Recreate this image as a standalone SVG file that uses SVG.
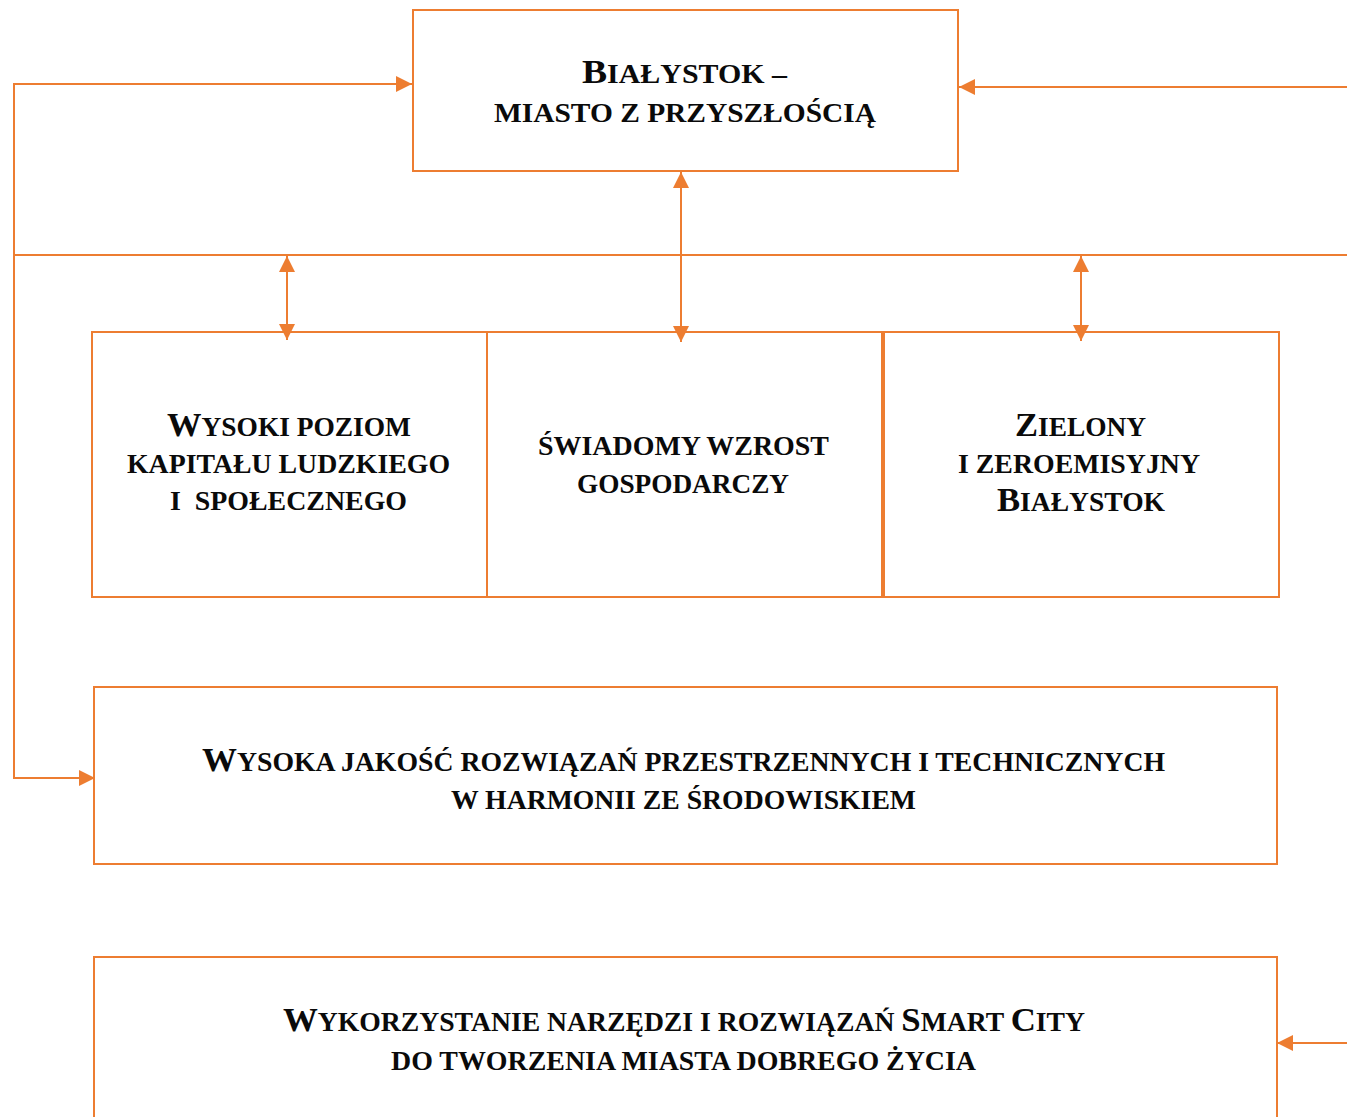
<svg xmlns="http://www.w3.org/2000/svg" width="1347" height="1117" viewBox="0 0 1347 1117">
<style>
  .box { fill: #ffffff; stroke: #ED7D31; stroke-width: 2; }
  .con { fill: none; stroke: #ED7D31; stroke-width: 2; }
  .t { font-family: "Liberation Serif", "Times New Roman", serif; font-weight: bold; font-size: 27px; fill: #0a0a0a; }
  .b { font-size: 34px; }
  .pre { white-space: pre; }
</style>
<defs>
  <marker id="arr" viewBox="0 0 16 16" refX="16" refY="8" markerWidth="16" markerHeight="16" markerUnits="userSpaceOnUse" orient="auto-start-reverse">
    <path d="M0,0 L16,8 L0,16 z" fill="#ED7D31"/>
  </marker>
</defs>
<rect width="1347" height="1117" fill="#ffffff"/>

<g id="node-bialystok">
  <rect class="box" x="413" y="10" width="545" height="161"/>
  <text class="t" x="582" y="83" textLength="205" lengthAdjust="spacingAndGlyphs"><tspan class="b">B</tspan>IAŁYSTOK –</text>
  <text class="t" x="494" y="122" textLength="382" lengthAdjust="spacingAndGlyphs">MIASTO Z PRZYSZŁOŚCIĄ</text>
</g>

<g id="node-kapital">
  <rect class="box" x="92" y="332" width="395" height="265"/>
  <text class="t" x="167" y="436" textLength="244" lengthAdjust="spacingAndGlyphs"><tspan class="b">W</tspan>YSOKI POZIOM</text>
  <text class="t" x="127" y="473" textLength="323" lengthAdjust="spacingAndGlyphs">KAPITAŁU LUDZKIEGO</text>
  <text class="t pre" x="170" y="510" textLength="237" lengthAdjust="spacingAndGlyphs">I  SPOŁECZNEGO</text>
</g>

<g id="node-wzrost">
  <rect class="box" x="487" y="332" width="395" height="265"/>
  <text class="t" x="538" y="455" textLength="291" lengthAdjust="spacingAndGlyphs">ŚWIADOMY WZROST</text>
  <text class="t" x="577" y="493" textLength="212" lengthAdjust="spacingAndGlyphs">GOSPODARCZY</text>
</g>

<g id="node-zielony">
  <rect class="box" x="884" y="332" width="395" height="265"/>
  <text class="t" x="1015" y="436" textLength="131" lengthAdjust="spacingAndGlyphs"><tspan class="b">Z</tspan>IELONY</text>
  <text class="t" x="958" y="473" textLength="242" lengthAdjust="spacingAndGlyphs">I ZEROEMISYJNY</text>
  <text class="t" x="997" y="511" textLength="168" lengthAdjust="spacingAndGlyphs"><tspan class="b">B</tspan>IAŁYSTOK</text>
</g>

<g id="node-jakosc">
  <rect class="box" x="94" y="687" width="1183" height="177"/>
  <text class="t" x="202" y="771" textLength="963" lengthAdjust="spacingAndGlyphs"><tspan class="b">W</tspan>YSOKA JAKOŚĆ ROZWIĄZAŃ PRZESTRZENNYCH I TECHNICZNYCH</text>
  <text class="t" x="451" y="809" textLength="465" lengthAdjust="spacingAndGlyphs">W HARMONII ZE ŚRODOWISKIEM</text>
</g>

<g id="node-smartcity">
  <rect class="box" x="94" y="957" width="1183" height="200"/>
  <text class="t" x="283" y="1031" textLength="802" lengthAdjust="spacingAndGlyphs"><tspan class="b">W</tspan>YKORZYSTANIE NARZĘDZI I ROZWIĄZAŃ <tspan class="b">S</tspan>MART <tspan class="b">C</tspan>ITY</text>
  <text class="t" x="391" y="1070" textLength="585" lengthAdjust="spacingAndGlyphs">DO TWORZENIA MIASTA DOBREGO ŻYCIA</text>
</g>

<g id="connectors">
  <path class="con" d="M412,84 H14 V778 H95" marker-start="url(#arr)" marker-end="url(#arr)"/>
  <path class="con" d="M1347,87 H959" marker-end="url(#arr)"/>
  <path class="con" d="M14,255 H1347"/>
  <path class="con" d="M287,256 V340" marker-start="url(#arr)" marker-end="url(#arr)"/>
  <path class="con" d="M681,172 V342" marker-start="url(#arr)" marker-end="url(#arr)"/>
  <path class="con" d="M1081,256 V341" marker-start="url(#arr)" marker-end="url(#arr)"/>
  <path class="con" d="M1347,1043 H1277" marker-end="url(#arr)"/>
</g>
</svg>
